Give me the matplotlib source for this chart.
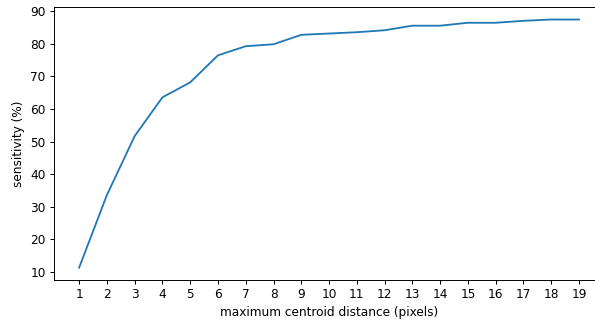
import numpy as np
import matplotlib
matplotlib.use('Agg')
import matplotlib.pyplot as plt

# data
distance = list(range(1, 20))
sensitivity = [11.3, 33.6, 51.7, 63.6, 68.2, 76.5, 79.3, 79.9, 82.8, 83.2,
               83.6, 84.2, 85.6, 85.6, 86.5, 86.5, 87.1, 87.5, 87.5]

# reference looks like a default figure rendered at ~87 dpi
DPI = 87
fig = plt.figure(figsize=(595 / DPI, 323 / DPI), dpi=DPI)
# right edge of the axes runs off the canvas, like the cropped original
ax = fig.add_axes([0.091, 0.133, 0.924, 0.845])

ax.plot(distance, sensitivity, color='#1f77b4')
ax.set_xticks(distance)
ax.set_xlabel('maximum centroid distance (pixels)')
ax.set_ylabel('sensitivity (%)')

fig.savefig('out.png', dpi=DPI)
